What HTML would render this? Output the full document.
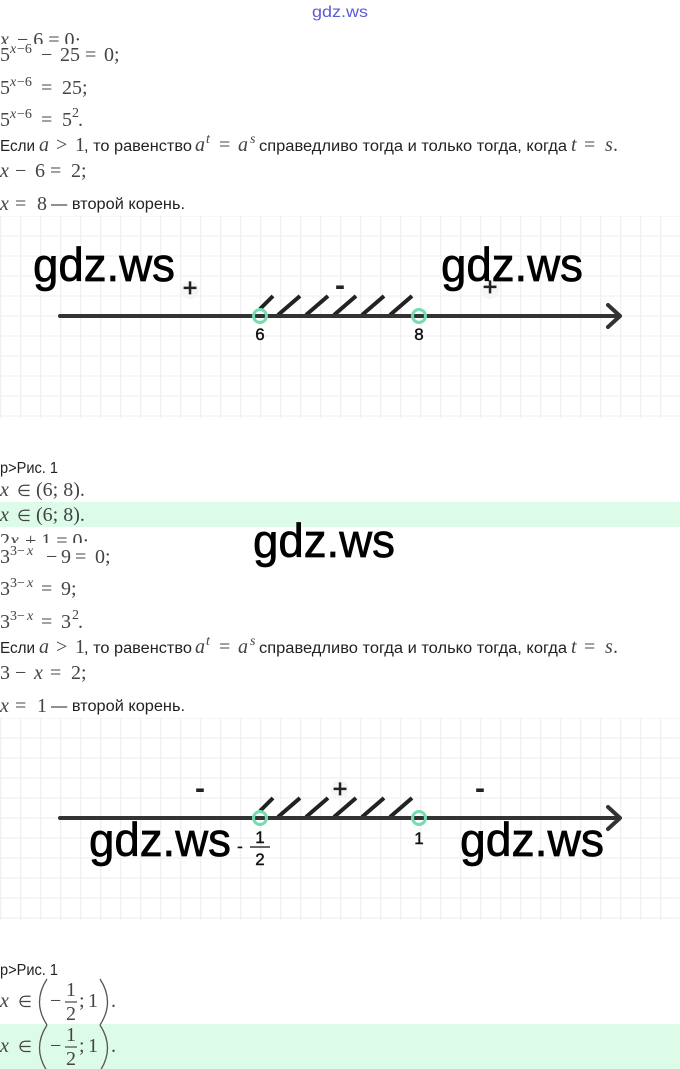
<!DOCTYPE html>
<html lang="ru">
<head>
<meta charset="utf-8">
<title>gdz.ws</title>
<style>
html,body{margin:0;padding:0;background:#fff;width:680px;height:1069px;overflow:hidden}
svg{display:block}
.m{font-family:"Liberation Serif",serif;font-size:20px;fill:#444}
.i{font-style:italic}
.s{font-size:14px}
.e{font-size:16px}
.t{font-family:"Liberation Sans",sans-serif;font-size:15.5px;fill:#222}
.w{font-family:"Liberation Sans",sans-serif;font-size:47px;fill:#000;stroke:#000;stroke-width:.7}
.l{font-family:"Liberation Sans",sans-serif;font-size:17px;fill:#111;stroke:#111;stroke-width:.4;text-anchor:middle}
.sg{font-family:"Liberation Sans",sans-serif;font-size:25px;fill:#222;stroke:#222;stroke-width:.7;text-anchor:middle}
.mn{font-family:"Liberation Sans",sans-serif;font-size:30px;font-weight:bold;fill:#222;text-anchor:middle}
</style>
</head>
<body>
<svg width="680" height="1069" viewBox="0 0 680 1069" xmlns="http://www.w3.org/2000/svg">
<defs>
<pattern id="g" x="-0.3" y="15" width="20" height="20" patternUnits="userSpaceOnUse">
<path d="M1 0V20" stroke="#efefef" stroke-width="1.3" fill="none"/>
<path d="M0 1H20" stroke="#f1f1f1" stroke-width="1.3" fill="none"/>
</pattern>
<pattern id="g2" x="-0.3" y="-3" width="20" height="20" patternUnits="userSpaceOnUse">
<path d="M1 0V20" stroke="#efefef" stroke-width="1.3" fill="none"/>
<path d="M0 1H20" stroke="#f1f1f1" stroke-width="1.3" fill="none"/>
</pattern>
</defs>
<rect width="680" height="1069" fill="#fff"/>

<!-- header -->
<text x="312" y="17" textLength="56" lengthAdjust="spacingAndGlyphs" font-family="Liberation Sans, sans-serif" font-size="16" fill="#5a5ad8">gdz.ws</text>

<!-- block 1 -->
<text class="m" y="46"><tspan class="i" x="0">x</tspan><tspan x="17">− 6 = 0·</tspan></text>
<rect x="0" y="44" width="200" height="10" fill="#fff"/>

<text class="m" y="61"><tspan x="0">5</tspan><tspan x="41">−</tspan><tspan x="60">25</tspan><tspan x="85">=</tspan><tspan x="104">0;</tspan></text>
<text class="m s" y="53"><tspan class="i" x="10">x</tspan><tspan x="17">−6</tspan></text>

<text class="m" y="94"><tspan x="0">5</tspan><tspan x="41">=</tspan><tspan x="62">25;</tspan></text>
<text class="m s" y="86"><tspan class="i" x="10">x</tspan><tspan x="17">−6</tspan></text>

<text class="m" y="126"><tspan x="0">5</tspan><tspan x="41">=</tspan><tspan x="62">5</tspan><tspan x="78">.</tspan></text>
<text class="m s" y="118"><tspan class="i" x="10">x</tspan><tspan x="17">−6</tspan><tspan x="72" dy="-1">2</tspan></text>

<text class="t" x="0" y="151" textLength="35" lengthAdjust="spacingAndGlyphs">Если</text>
<text class="m" y="151"><tspan class="i" x="39">a</tspan><tspan x="56">&gt;</tspan><tspan x="75">1</tspan></text>
<text class="t" x="84" y="151" textLength="108" lengthAdjust="spacingAndGlyphs">, то равенство</text>
<text class="m" y="151"><tspan class="i" x="195">a</tspan><tspan x="219">=</tspan><tspan class="i" x="238">a</tspan></text>
<text class="m s i" y="143"><tspan x="206">t</tspan><tspan x="250">s</tspan></text>
<text class="t" x="259" y="151" textLength="308" lengthAdjust="spacingAndGlyphs">справедливо тогда и только тогда, когда</text>
<text class="m" y="151"><tspan class="i" x="571">t</tspan><tspan x="584">=</tspan><tspan class="i" x="605">s</tspan><tspan x="613">.</tspan></text>

<text class="m" y="177"><tspan class="i" x="0">x</tspan><tspan x="15">−</tspan><tspan x="35">6</tspan><tspan x="50">=</tspan><tspan x="71">2;</tspan></text>
<text class="m" y="210"><tspan class="i" x="0">x</tspan><tspan x="15">=</tspan><tspan x="37">8</tspan></text>
<text class="t" x="51" y="209" textLength="134" lengthAdjust="spacingAndGlyphs">— второй корень.</text>

<!-- diagram 1 -->
<rect x="0" y="216" width="680" height="202" fill="url(#g)"/>
<g stroke="#222" stroke-width="4" fill="none">
<path d="M260 309L273 296M278 315L300 296M306 315L328 296M334 315L356 296M362 315L384 296M390 315L412 296"/>
</g>
<path d="M60 316H619" stroke="#333" stroke-width="4" stroke-linecap="round" fill="none"/>
<path d="M608 305L620 316L608 327" stroke="#333" stroke-width="4" stroke-linecap="round" stroke-linejoin="round" fill="none"/>
<circle cx="260" cy="316" r="6.5" fill="none" stroke="#74dcae" stroke-width="3"/>
<circle cx="419" cy="316" r="6.5" fill="none" stroke="#74dcae" stroke-width="3"/>
<text class="l" x="260" y="340">6</text>
<text class="l" x="419" y="340">8</text>
<circle cx="190" cy="290" r="9" fill="#f6f6f6"/>
<circle cx="490" cy="290" r="9" fill="#f6f6f6"/>
<text class="sg" x="190" y="296">+</text>
<text class="mn" x="340" y="295">-</text>
<text class="sg" x="490" y="295">+</text>
<text class="w" x="33" y="281" textLength="142" lengthAdjust="spacingAndGlyphs">gdz.ws</text>
<text class="w" x="441" y="281" textLength="142" lengthAdjust="spacingAndGlyphs">gdz.ws</text>

<!-- block 2 -->
<text class="t" x="0" y="473" textLength="58" lengthAdjust="spacingAndGlyphs">p&gt;Рис. 1</text>
<text class="m" y="496"><tspan class="i" x="0">x</tspan><tspan class="e" x="17">∈</tspan><tspan x="36">(6; 8).</tspan></text>
<rect x="0" y="502" width="680" height="25" fill="#dcfbe9"/>
<text class="m" y="521"><tspan class="i" x="0">x</tspan><tspan class="e" x="17">∈</tspan><tspan x="36">(6; 8).</tspan></text>

<text class="m" y="547"><tspan x="0">2</tspan><tspan class="i" x="10">x</tspan><tspan x="25">+ 1 = 0·</tspan></text>
<rect x="0" y="543" width="200" height="10" fill="#fff"/>

<text class="m" y="563"><tspan x="0">3</tspan><tspan x="46">−</tspan><tspan x="61">9</tspan><tspan x="75">=</tspan><tspan x="95">0;</tspan></text>
<text class="m s" y="555"><tspan x="10">3−</tspan><tspan class="i" x="27">x</tspan></text>

<text class="m" y="595"><tspan x="0">3</tspan><tspan x="41">=</tspan><tspan x="61">9;</tspan></text>
<text class="m s" y="587"><tspan x="10">3−</tspan><tspan class="i" x="27">x</tspan></text>

<text class="m" y="628"><tspan x="0">3</tspan><tspan x="41">=</tspan><tspan x="61">3</tspan><tspan x="78">.</tspan></text>
<text class="m s" y="620"><tspan x="10">3−</tspan><tspan class="i" x="27">x</tspan><tspan x="72" dy="-1">2</tspan></text>

<text class="t" x="0" y="653" textLength="35" lengthAdjust="spacingAndGlyphs">Если</text>
<text class="m" y="653"><tspan class="i" x="39">a</tspan><tspan x="56">&gt;</tspan><tspan x="75">1</tspan></text>
<text class="t" x="84" y="653" textLength="108" lengthAdjust="spacingAndGlyphs">, то равенство</text>
<text class="m" y="653"><tspan class="i" x="195">a</tspan><tspan x="219">=</tspan><tspan class="i" x="238">a</tspan></text>
<text class="m s i" y="645"><tspan x="206">t</tspan><tspan x="250">s</tspan></text>
<text class="t" x="259" y="653" textLength="308" lengthAdjust="spacingAndGlyphs">справедливо тогда и только тогда, когда</text>
<text class="m" y="653"><tspan class="i" x="571">t</tspan><tspan x="584">=</tspan><tspan class="i" x="605">s</tspan><tspan x="613">.</tspan></text>

<text class="m" y="679"><tspan x="0">3</tspan><tspan x="15">−</tspan><tspan class="i" x="34">x</tspan><tspan x="50">=</tspan><tspan x="71">2;</tspan></text>
<text class="m" y="712"><tspan class="i" x="0">x</tspan><tspan x="15">=</tspan><tspan x="37">1</tspan></text>
<text class="t" x="51" y="711" textLength="134" lengthAdjust="spacingAndGlyphs">— второй корень.</text>

<text class="w" x="253" y="557" textLength="142" lengthAdjust="spacingAndGlyphs">gdz.ws</text>

<!-- diagram 2 -->
<rect x="0" y="718" width="680" height="202" fill="url(#g2)"/>
<g stroke="#222" stroke-width="4" fill="none">
<path d="M260 811L273 798M278 817L300 798M306 817L328 798M334 817L356 798M362 817L384 798M390 817L412 798"/>
</g>
<path d="M60 818H619" stroke="#333" stroke-width="4" stroke-linecap="round" fill="none"/>
<path d="M608 807L620 818L608 829" stroke="#333" stroke-width="4" stroke-linecap="round" stroke-linejoin="round" fill="none"/>
<circle cx="260" cy="818" r="6.5" fill="none" stroke="#74dcae" stroke-width="3"/>
<circle cx="419" cy="818" r="6.5" fill="none" stroke="#74dcae" stroke-width="3"/>
<circle cx="340" cy="790" r="9" fill="#f6f6f6"/>
<text class="mn" x="200" y="798">-</text>
<text class="sg" x="340" y="797">+</text>
<text class="mn" x="480" y="798">-</text>
<text class="l" x="240" y="852">-</text>
<text class="l" x="260" y="843">1</text>
<path d="M250 847H270" stroke="#333" stroke-width="1.5"/>
<text class="l" x="260" y="865">2</text>
<text class="l" x="419" y="844">1</text>
<text class="w" x="89" y="856" textLength="142" lengthAdjust="spacingAndGlyphs">gdz.ws</text>
<text class="w" x="460" y="856" textLength="144" lengthAdjust="spacingAndGlyphs">gdz.ws</text>

<!-- block 3 -->
<text class="t" x="0" y="975" textLength="58" lengthAdjust="spacingAndGlyphs">p&gt;Рис. 1</text>
<rect x="0" y="1024" width="680" height="45" fill="#dcfbe9"/>

<g fill="none" stroke="#555" stroke-width="1.3">
<path d="M47 979Q32 1002 47 1025"/>
<path d="M100 979Q115 1002 100 1025"/>
<path d="M47 1025Q32 1048 47 1071"/>
<path d="M100 1025Q115 1048 100 1071"/>
<path d="M65 1002H77"/>
<path d="M65 1047H77"/>
</g>
<text class="m" y="1007"><tspan class="i" x="0">x</tspan><tspan class="e" x="18">∈</tspan><tspan x="50">−</tspan><tspan x="79">;</tspan><tspan x="88">1</tspan><tspan x="111">.</tspan></text>
<text class="m" y="996" x="66">1</text>
<text class="m" y="1020" x="66">2</text>
<text class="m" y="1052"><tspan class="i" x="0">x</tspan><tspan class="e" x="18">∈</tspan><tspan x="50">−</tspan><tspan x="79">;</tspan><tspan x="88">1</tspan><tspan x="111">.</tspan></text>
<text class="m" y="1041" x="66">1</text>
<text class="m" y="1065" x="66">2</text>
</svg>
</body>
</html>
